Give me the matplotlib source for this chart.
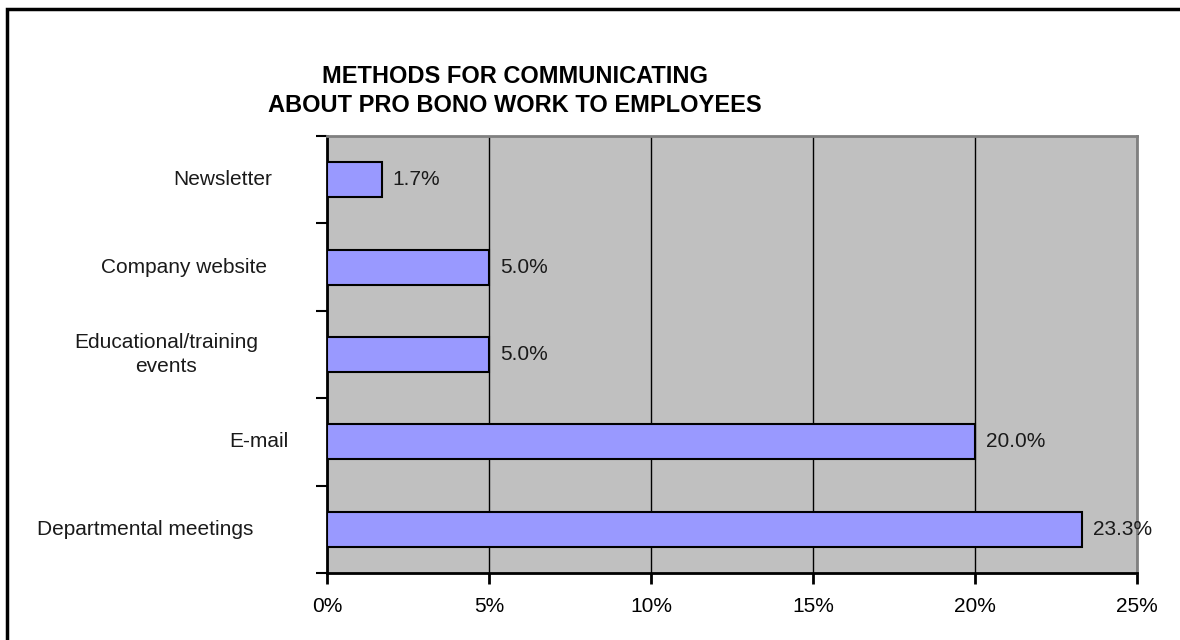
import numpy as np
import matplotlib.pyplot as plt
from matplotlib.patches import Rectangle
from matplotlib.transforms import blended_transform_factory
from matplotlib.ticker import FuncFormatter

plt.rcParams['font.family'] = ['Liberation Sans', 'DejaVu Sans']

# data, top to bottom
methods = ['Newsletter', 'Company website', 'Educational/training\nevents',
           'E-mail', 'Departmental meetings']
shares = [1.7, 5.0, 5.0, 20.0, 23.3]
xticks = [0, 5, 10, 15, 20, 25]

W, H = 1180, 640
fig = plt.figure(figsize=(W / 100, H / 100), dpi=100)
ax = fig.add_axes([327 / W, 1 - 573 / H, (1137 - 327) / W, (573 - 136) / H])
ax.set_facecolor('#C0C0C0')

y = np.arange(len(methods))
ax.barh(y, shares, height=0.4, color='#9999FF', edgecolor='black', linewidth=1.5, zorder=3)
for yi, v in zip(y, shares):
    ax.text(v + 0.33, yi, f'{v:.1f}%', va='center', ha='left', fontsize=15, color='#1a1a1a', zorder=4)

ax.set_xlim(0, 25)
ax.set_ylim(len(methods) - 0.5, -0.5)
ax.set_xticks(xticks)
ax.xaxis.set_major_formatter(FuncFormatter(lambda v, p: f'{v:.0f}%'))
ax.tick_params(axis='x', length=8, width=2, labelsize=15, pad=9, direction='out')
ax.grid(axis='x', color='black', linewidth=1, zorder=1)

# y ticks at category boundaries, labels drawn separately
ax.set_yticks(np.arange(len(methods) + 1) - 0.5)
ax.set_yticklabels([])
ax.tick_params(axis='y', length=8, width=1.5, direction='out')

label_cx = [223, 184, 166, 259, 145]
trans = blended_transform_factory(fig.transFigure, ax.transData)
for yi, lab, cx in zip(y, methods, label_cx):
    ax.text(cx / W, yi, lab, transform=trans, ha='center', va='center',
            fontsize=15, color='#1a1a1a', linespacing=1.35, clip_on=False)

for s in ['left', 'bottom']:
    ax.spines[s].set_color('black')
    ax.spines[s].set_linewidth(2)
for s in ['top', 'right']:
    ax.spines[s].set_color('#808080')
    ax.spines[s].set_linewidth(2)

fig.text(515 / W, 1 - 91 / H, 'METHODS FOR COMMUNICATING\nABOUT PRO BONO WORK TO EMPLOYEES',
         ha='center', va='center', fontsize=17, fontweight='bold', linespacing=1.3)

# outer chart border (right and bottom run off the picture)
fig.patches.append(Rectangle((7 / W, -0.1), 1.2, 1 - 9 / H + 0.1, transform=fig.transFigure,
                             fill=False, edgecolor='black', linewidth=2.5))

fig.savefig('out.png', dpi=100)
